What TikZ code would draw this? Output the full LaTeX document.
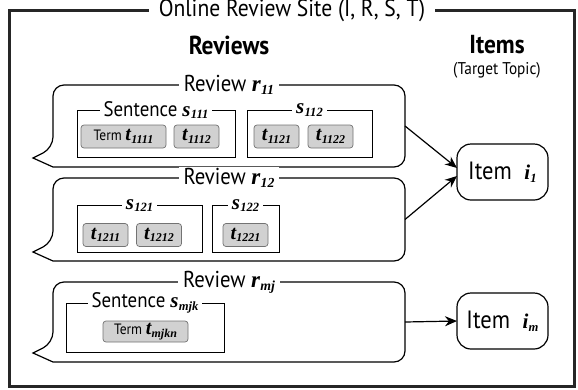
\documentclass[tikz,border=0pt]{standalone}
\usepackage{fontspec}
\usepackage{graphicx}
\setmainfont{PT Sans}[FakeStretch=0.9]
\newfontfamily\varfont{Liberation Serif}
\usetikzlibrary{arrows.meta}

% bold italic variable with a lowered index
\newcommand{\sym}[2]{{\varfont\bfseries\itshape #1\kern.3pt\raisebox{-.12em}{\scalebox{.6}{#2}}}}
% same, a size up, for the terms
\newcommand{\tsym}[2]{{\fontsize{20}{20}\selectfont\sym{#1}{#2}}}
% speech bubble round an empty review node, tail on the lower left
\newcommand{\bubble}[1]{%
  \draw[bubbleline] (#1.south west) [rounded corners=11pt] -- (#1.south east) -- (#1.north east)
    -- (#1.north west) -- ([yshift=19pt]#1.south west) [sharp corners]
    -- ([shift={(-20pt,9pt)}]#1.south west) -- cycle;}

\begin{document}
\begin{tikzpicture}[x=1pt, y=-1pt,
  every node/.style={inner sep=0pt, outer sep=0pt},
  frame/.style={draw=black!85, line width=3pt},
  heading/.style={font=\fontsize{26}{28}\selectfont\bfseries},
  sitelabel/.style={fill=white, inner xsep=10pt, inner ysep=2pt, font=\fontsize{24}{26}\selectfont},
  review/.style={minimum width=352pt},
  bubbleline/.style={line width=1.2pt},
  revlabel/.style={fill=white, inner xsep=5pt, inner ysep=1pt, font=\fontsize{23}{25}\selectfont},
  sentence/.style={draw, line width=1pt, minimum height=47pt},
  sentlabel/.style={fill=white, inner xsep=4pt, inner ysep=1pt, font=\fontsize{21}{23}\selectfont},
  term/.style={draw=black!55, fill=black!18, line width=.7pt, rounded corners=3pt,
    minimum height=23pt, font=\fontsize{15}{17}\selectfont},
  item/.style={draw, line width=1.2pt, rounded corners=14pt, minimum width=91pt,
    minimum height=56pt, font=\fontsize{25}{27}\selectfont},
  link/.style={-{Stealth[length=12pt,width=10pt]}, line width=1.2pt}]
\useasboundingbox (0,0) rectangle (578,389);

% outer frame
\draw[frame] (9,10) rectangle (574,386);
\node[sitelabel] (site) at (292,11) {Online Review Site (I, R, S, T)};

\node[heading] (revhead) at (229,45) {Reviews};
\node[heading] (itemhead) at (497,45) {Items};
\node[font=\fontsize{17}{19}\selectfont] (topic) at (497,70) {(Target Topic)};

% review r11
\node[review, minimum height=82pt] (r11) at (229,126) {};
\bubble{r11}
\node[revlabel] at (r11.north) {Review \sym{r}{11}};
\node[sentence, minimum width=158pt] (s111) at (156,133.5) {};
\node[sentlabel] at (s111.north) {Sentence \sym{s}{111}};
\node[term, minimum width=85pt] (t1111) at (123.5,136.5) {Term \tsym{t}{1111}};
\node[term, minimum width=45pt] (t1112) at (196.5,136.5) {\tsym{t}{1112}};
\node[sentence, minimum width=125pt] (s112) at (309.5,133.5) {};
\node[sentlabel] at (s112.north) {\sym{s}{112}};
\node[term, minimum width=45pt] (t1121) at (276.5,136.5) {\tsym{t}{1121}};
\node[term, minimum width=45pt] (t1122) at (330.5,136.5) {\tsym{t}{1122}};

% review r12
\node[review, minimum height=83pt] (r12) at (229,219.5) {};
\bubble{r12}
\node[revlabel] at (r12.north) {Review \sym{r}{12}};
\node[sentence, minimum width=125pt] (s121) at (139.5,229) {};
\node[sentlabel] at (s121.north) {\sym{s}{121}};
\node[term, minimum width=45pt] (t1211) at (105.5,235) {\tsym{t}{1211}};
\node[term, minimum width=45pt] (t1212) at (159,235) {\tsym{t}{1212}};
\node[sentence, minimum width=67pt] (s122) at (245.5,229) {};
\node[sentlabel] at (s122.north) {\sym{s}{122}};
\node[term, minimum width=45pt] (t1221) at (245.5,235) {\tsym{t}{1221}};

% review rmj
\node[review, minimum height=80pt] (rmj) at (229,322) {};
\bubble{rmj}
\node[revlabel] at (rmj.north) {Review \sym{r}{mj}};
\node[sentence, minimum width=158pt, minimum height=49pt] (smjk) at (145,327.5) {};
\node[sentlabel] at (smjk.north) {Sentence \sym{s}{mjk}};
\node[term, minimum width=85pt, minimum height=21pt] (tmjkn) at (145.5,331.5) {Term \tsym{t}{mjkn}};

% items
\node[item] (i1) at (502.5,172) {Item\enspace{\fontsize{21}{21}\selectfont\sym{i}{1}}};
\node[item] (im) at (502.5,321) {Item\enspace{\fontsize{21}{21}\selectfont\sym{i}{m}}};

\draw[link] (r11.east) -- ([yshift=4pt]i1.west);
\draw[link] (r12.east) -- ([yshift=-4pt]i1.west);
\draw[link] (rmj.east) -- (im.west);
\end{tikzpicture}
\end{document}
